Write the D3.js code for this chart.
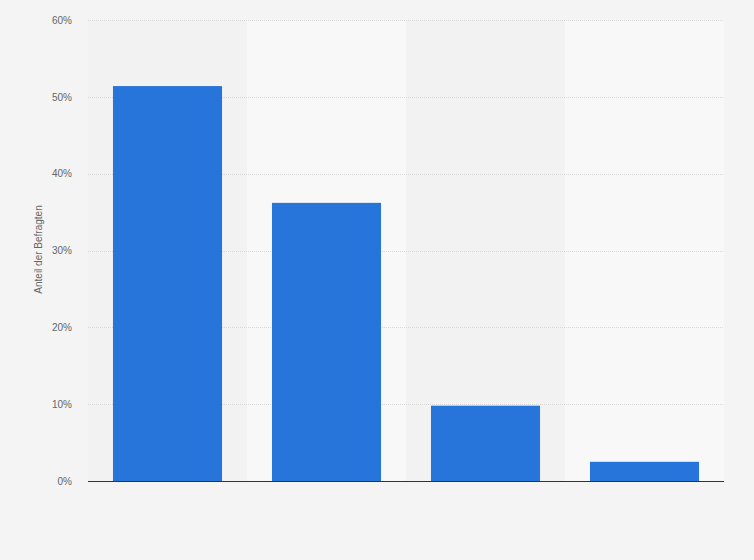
<!DOCTYPE html>
<html><head><meta charset="utf-8">
<script src="https://cdn.jsdelivr.net/npm/d3@7"></script>
<style>
html,body{margin:0;padding:0;background:#f4f4f4;}
svg{display:block;font-family:"Liberation Sans",Arial,sans-serif;}
</style></head>
<body>
<svg id="chart" width="754" height="560"></svg>
<script>
const categories = ["A", "B", "C", "D"];
const values = [51.4, 36.2, 9.8, 2.5];
const tickValues = [0, 10, 20, 30, 40, 50, 60];
const yLabel = "Anteil der Befragten";

const svg = d3.select("#chart");
const W = 754, H = 560;
const m = {left: 88, right: 30, top: 20, bottom: 79};
const x = d3.scaleBand().domain(categories).range([m.left, W - m.right]).padding(0);
const y = d3.scaleLinear().domain([0, 60]).range([H - m.bottom, m.top]);

svg.append("rect").attr("width", W).attr("height", H).attr("fill", "#f4f4f4");

// alternating bands
svg.append("g").selectAll("rect").data(categories).join("rect")
  .attr("x", d => x(d)).attr("width", x.bandwidth())
  .attr("y", y(60)).attr("height", y(0) - y(60))
  .attr("fill", (d, i) => i % 2 === 1 ? "#f8f8f8" : "#f2f2f2");

// grid
const yAxis = d3.axisLeft(y).tickValues(tickValues).tickFormat(d => d + "%").tickSize(0).tickPadding(16);
const gy = svg.append("g").attr("transform", `translate(${m.left},0)`).call(yAxis);
gy.select(".domain").remove();
gy.selectAll("text").attr("fill", "#666").style("font-size", "10px");

svg.append("g").selectAll("line").data(tickValues.filter(d => d > 0)).join("line")
  .attr("x1", m.left).attr("x2", W - m.right)
  .attr("y1", d => Math.round(y(d)) + 0.5).attr("y2", d => Math.round(y(d)) + 0.5)
  .attr("stroke", "#d8d8d8").attr("stroke-width", 1).attr("stroke-dasharray", "1,1");

// bars
const barW = x.bandwidth() * 0.686;
svg.append("g").selectAll("rect").data(values).join("rect")
  .attr("x", (d, i) => x(categories[i]) + (x.bandwidth() - barW) / 2)
  .attr("width", barW)
  .attr("y", d => y(d)).attr("height", d => y(0) - y(d))
  .attr("fill", "#2775db");

// baseline
svg.append("line").attr("x1", m.left).attr("x2", W - m.right)
  .attr("y1", y(0) + 0.5).attr("y2", y(0) + 0.5)
  .attr("stroke", "#333").attr("stroke-width", 1.2);

// y label
svg.append("text")
  .attr("transform", `translate(42,${(y(0) + y(60)) / 2 - 1}) rotate(-90)`)
  .attr("text-anchor", "middle").attr("fill", "#666").style("font-size", "10px")
  .text(yLabel);
</script>
</body></html>
